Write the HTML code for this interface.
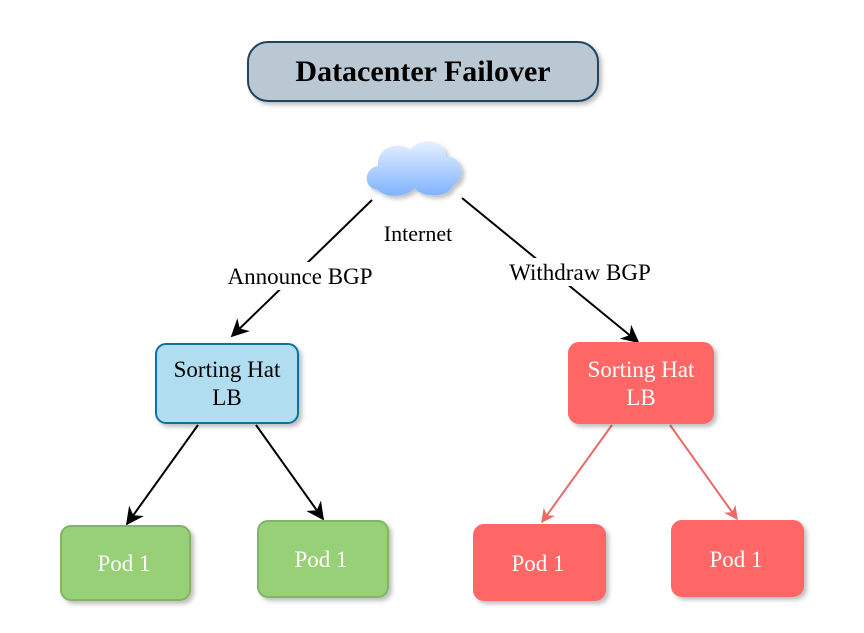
<!DOCTYPE html>
<html><head><style>body{margin:0;background:#fff}</style></head><body>
<svg width="864" height="628" xmlns="http://www.w3.org/2000/svg" font-family="Liberation Serif, serif">
<defs>
<filter id="sh" x="-20%" y="-20%" width="150%" height="150%"><feDropShadow dx="3" dy="3" stdDeviation="2" flood-color="#000" flood-opacity="0.25"/></filter>
<linearGradient id="cg" x1="0" y1="0" x2="0" y2="1"><stop offset="0" stop-color="#e6f0ff"/><stop offset="1" stop-color="#7fb2ff"/></linearGradient>
<marker id="ab" viewBox="0 0 10 10" refX="9" refY="5" markerWidth="10" markerHeight="10" markerUnits="userSpaceOnUse" orient="auto"><path d="M0,0 L10,5 L0,10 L3,5 z" fill="#000"/></marker>
<marker id="abl" viewBox="0 0 10 10" refX="9" refY="5" markerWidth="18" markerHeight="18" markerUnits="userSpaceOnUse" orient="auto"><path d="M0,0 L10,5 L0,10 L3,5 z" fill="#000"/></marker>
<marker id="ar" viewBox="0 0 10 10" refX="9" refY="5" markerWidth="14" markerHeight="14" markerUnits="userSpaceOnUse" orient="auto"><path d="M0,0 L10,5 L0,10 L3,5 z" fill="#ea6b66"/></marker>
</defs>
<rect x="248" y="42" width="350" height="59" rx="20" fill="#bac8d3" stroke="#23445d" stroke-width="2" filter="url(#sh)"/>
<text x="423" y="81" text-anchor="middle" font-size="30" font-weight="bold">Datacenter Failover</text>
<g filter="url(#sh)"><path d="M378,190 C362,188 364,168 378,166 C376,148 398,140 410,150 C420,136 446,140 446,156 C462,156 468,178 452,186 C450,198 420,198 415,188 C405,198 385,198 378,190 z" fill="url(#cg)"/></g>
<line x1="372" y1="200" x2="232" y2="336" stroke="#000" stroke-width="2" marker-end="url(#abl)"/>
<line x1="462" y1="198" x2="638" y2="342" stroke="#000" stroke-width="2" marker-end="url(#abl)"/>
<rect x="220" y="262" width="160" height="28" fill="#fff"/>
<text x="300" y="284" text-anchor="middle" font-size="23">Announce BGP</text>
<rect x="503" y="258" width="155" height="28" fill="#fff"/>
<text x="580" y="280" text-anchor="middle" font-size="23">Withdraw BGP</text>
<text x="418" y="241" text-anchor="middle" font-size="22">Internet</text>
<line x1="198" y1="425" x2="127" y2="524" stroke="#000" stroke-width="2" marker-end="url(#abl)"/>
<line x1="256" y1="425" x2="323" y2="519" stroke="#000" stroke-width="2" marker-end="url(#abl)"/>
<line x1="612" y1="425" x2="542" y2="522" stroke="#ea6b66" stroke-width="2" marker-end="url(#ar)"/>
<line x1="670" y1="425" x2="737" y2="519" stroke="#ea6b66" stroke-width="2" marker-end="url(#ar)"/>
<rect x="156" y="344" width="142" height="79" rx="10" fill="#b1ddf0" stroke="#10739e" stroke-width="2" filter="url(#sh)"/>
<text x="227" y="377" text-anchor="middle" font-size="23">Sorting Hat</text>
<text x="227" y="405" text-anchor="middle" font-size="23">LB</text>
<rect x="569" y="343" width="144" height="80" rx="10" fill="#ff6666" stroke="#ff6666" stroke-width="2" filter="url(#sh)"/>
<text x="641" y="377" text-anchor="middle" font-size="23" fill="#fff">Sorting Hat</text>
<text x="641" y="405" text-anchor="middle" font-size="23" fill="#fff">LB</text>
<g filter="url(#sh)">
<rect x="61" y="526" width="129" height="74" rx="10" fill="#97d077" stroke="#82b366" stroke-width="2"/>
<rect x="258" y="521" width="130" height="76" rx="10" fill="#97d077" stroke="#82b366" stroke-width="2"/>
<rect x="474" y="525" width="131" height="75" rx="10" fill="#ff6666" stroke="#ff6666" stroke-width="2"/>
<rect x="672" y="521" width="131" height="75" rx="10" fill="#ff6666" stroke="#ff6666" stroke-width="2"/>
</g>
<g font-size="23" fill="#fff" text-anchor="middle">
<text x="124" y="571">Pod 1</text>
<text x="321" y="567">Pod 1</text>
<text x="538" y="571">Pod 1</text>
<text x="736" y="567">Pod 1</text>
</g>
</svg>
</body></html>
